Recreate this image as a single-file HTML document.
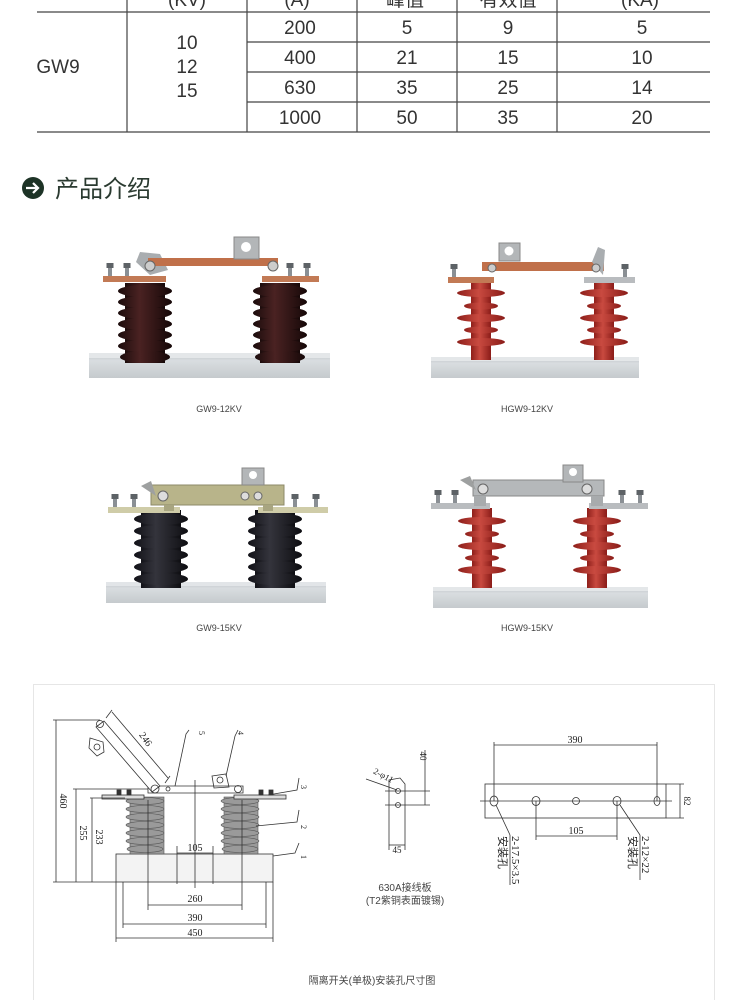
<!DOCTYPE html>
<html><head><meta charset="utf-8"><style>
html,body{margin:0;padding:0;background:#fff;}
body{width:750px;height:1000px;position:relative;overflow:hidden;font-family:"Liberation Sans","Noto Sans CJK SC",sans-serif;}
svg{position:absolute;left:0;top:0}
</style></head><body>
<svg width="750" height="1000" viewBox="0 0 750 1000" xmlns="http://www.w3.org/2000/svg">
<defs>
<linearGradient id="base" x1="0" y1="0" x2="0" y2="1"><stop offset="0" stop-color="#b9bec2"/><stop offset="0.3" stop-color="#d9dde0"/><stop offset="1" stop-color="#c5cacd"/></linearGradient>
<linearGradient id="por" x1="0" y1="0" x2="1" y2="0"><stop offset="0" stop-color="#1c0c0c"/><stop offset="0.4" stop-color="#4a2222"/><stop offset="1" stop-color="#160808"/></linearGradient>
<linearGradient id="blk" x1="0" y1="0" x2="1" y2="0"><stop offset="0" stop-color="#121218"/><stop offset="0.4" stop-color="#34343c"/><stop offset="1" stop-color="#0e0e12"/></linearGradient>
<linearGradient id="red" x1="0" y1="0" x2="1" y2="0"><stop offset="0" stop-color="#8e1f1a"/><stop offset="0.45" stop-color="#c94a40"/><stop offset="1" stop-color="#8a1c18"/></linearGradient>
<g id="porc"><rect x="-20" y="0" width="40" height="80" fill="url(#por)"/>
<ellipse cx="0" cy="8" rx="27" ry="6" fill="url(#por)"/><ellipse cx="0" cy="19" rx="27" ry="6" fill="url(#por)"/><ellipse cx="0" cy="30" rx="27" ry="6" fill="url(#por)"/><ellipse cx="0" cy="41" rx="27" ry="6" fill="url(#por)"/><ellipse cx="0" cy="52" rx="27" ry="6" fill="url(#por)"/><ellipse cx="0" cy="63" rx="27" ry="6" fill="url(#por)"/><ellipse cx="0" cy="74" rx="25" ry="6" fill="url(#por)"/></g>
<g id="blkp"><rect x="-20" y="0" width="40" height="78" fill="url(#blk)"/>
<ellipse cx="0" cy="9" rx="27" ry="6" fill="url(#blk)"/><ellipse cx="0" cy="21" rx="27" ry="6" fill="url(#blk)"/><ellipse cx="0" cy="33" rx="27" ry="6" fill="url(#blk)"/><ellipse cx="0" cy="45" rx="27" ry="6" fill="url(#blk)"/><ellipse cx="0" cy="57" rx="27" ry="6" fill="url(#blk)"/><ellipse cx="0" cy="69" rx="27" ry="6" fill="url(#blk)"/></g>
<g id="comp"><rect x="-10" y="0" width="20" height="80" fill="url(#red)"/>
<ellipse cx="0" cy="13" rx="24" ry="4" fill="url(#red)"/><ellipse cx="0" cy="26" rx="17" ry="3.5" fill="url(#red)"/><ellipse cx="0" cy="38" rx="24" ry="4" fill="url(#red)"/><ellipse cx="0" cy="50" rx="17" ry="3.5" fill="url(#red)"/><ellipse cx="0" cy="62" rx="24" ry="4" fill="url(#red)"/></g>
<g id="bolt"><rect x="-2" y="-10" width="4" height="10" fill="#8a8f94"/><rect x="-3.5" y="-13" width="7" height="5" fill="#5d6266"/></g>
</defs>

<!-- table -->
<g fill="#333" font-size="19" text-anchor="middle" font-family="Liberation Sans,'Noto Sans CJK SC',sans-serif">
<text x="187" y="6">(KV)</text><text x="297" y="6">(A)</text><text x="405" y="6">峰值</text><text x="508" y="6">有效值</text><text x="640" y="6">(KA)</text>
</g>
<g stroke="#444" stroke-width="1.2">
<line x1="37" y1="12" x2="710" y2="12"/><line x1="37" y1="132" x2="710" y2="132"/>
<line x1="247" y1="42" x2="710" y2="42"/><line x1="247" y1="72" x2="710" y2="72"/><line x1="247" y1="102" x2="710" y2="102"/>
<line x1="127" y1="0" x2="127" y2="132"/><line x1="247" y1="0" x2="247" y2="132"/><line x1="357" y1="0" x2="357" y2="132"/><line x1="457" y1="0" x2="457" y2="132"/><line x1="557" y1="0" x2="557" y2="132"/>
</g>
<g fill="#333" font-size="19" text-anchor="middle">
<text x="58" y="73">GW9</text>
<text x="187" y="49">10</text><text x="187" y="73">12</text><text x="187" y="97">15</text>
<text x="300" y="34">200</text><text x="407" y="34">5</text><text x="508" y="34">9</text><text x="642" y="34">5</text>
<text x="300" y="64">400</text><text x="407" y="64">21</text><text x="508" y="64">15</text><text x="642" y="64">10</text>
<text x="300" y="94">630</text><text x="407" y="94">35</text><text x="508" y="94">25</text><text x="642" y="94">14</text>
<text x="300" y="124">1000</text><text x="407" y="124">50</text><text x="508" y="124">35</text><text x="642" y="124">20</text>
</g>

<!-- heading -->
<circle cx="33" cy="188" r="11" fill="#1d3326"/>
<path d="M26 188h12M33 183l5 5-5 5" stroke="#fff" stroke-width="2.2" fill="none"/>
<text x="55" y="197" font-size="24" fill="#2a3a30" font-family="Liberation Sans,'Noto Sans CJK SC',sans-serif">产品介绍</text>

<!-- GW9-12KV -->
<rect x="89" y="353" width="241" height="25" fill="url(#base)"/>
<rect x="89" y="353" width="241" height="5" fill="#e4e7e9"/>
<use href="#porc" x="145" y="283"/><use href="#porc" x="280" y="283"/>
<rect x="103" y="276" width="63" height="6" fill="#c27a55"/><rect x="262" y="276" width="57" height="6" fill="#c27a55"/>
<use href="#bolt" x="110" y="276"/><use href="#bolt" x="127" y="276"/><use href="#bolt" x="290" y="276"/><use href="#bolt" x="307" y="276"/>
<path d="M136 262 L140 252 L160 254 L168 270 L150 275 Z" fill="#a9adb0"/>
<rect x="148" y="258" width="130" height="8" fill="#c0704a"/>
<rect x="234" y="237" width="25" height="22" fill="#b3b6b8" stroke="#888"/><circle cx="246" cy="247" r="5" fill="#fff"/>
<circle cx="150" cy="266" r="5" fill="#ccc" stroke="#666"/><circle cx="273" cy="266" r="5" fill="#ccc" stroke="#666"/>
<text x="219" y="412" font-size="9" fill="#444" text-anchor="middle">GW9-12KV</text>

<!-- HGW9-12KV -->
<rect x="431" y="357" width="208" height="21" fill="url(#base)"/>
<rect x="431" y="357" width="208" height="4" fill="#e4e7e9"/>
<use href="#comp" x="481" y="280"/><use href="#comp" x="604" y="280"/>
<rect x="448" y="277" width="46" height="6" fill="#c27a55"/><rect x="584" y="277" width="51" height="6" fill="#b9bcbf"/>
<use href="#bolt" x="454" y="277"/><use href="#bolt" x="625" y="277"/>
<rect x="482" y="262" width="122" height="9" fill="#c0704a"/>
<path d="M592 262 L598 247 L605 250 L603 275 Z" fill="#a9adb0"/>
<rect x="499" y="243" width="21" height="18" fill="#b3b6b8" stroke="#888"/><circle cx="509" cy="251" r="4.5" fill="#fff"/>
<circle cx="492" cy="268" r="4" fill="#ccc" stroke="#666"/><circle cx="596" cy="268" r="4" fill="#ccc" stroke="#666"/>
<text x="527" y="412" font-size="9" fill="#444" text-anchor="middle">HGW9-12KV</text>

<!-- GW9-15KV -->
<rect x="106" y="582" width="220" height="21" fill="url(#base)"/>
<rect x="106" y="582" width="220" height="4" fill="#e2e5e8"/>
<use href="#blkp" x="161" y="510"/><use href="#blkp" x="275" y="510"/>
<rect x="108" y="507" width="72" height="6" fill="#cfcca8"/><rect x="258" y="507" width="70" height="6" fill="#cfcca8"/>
<use href="#bolt" x="115" y="507"/><use href="#bolt" x="134" y="507"/><use href="#bolt" x="295" y="507"/><use href="#bolt" x="316" y="507"/>
<rect x="151" y="485" width="133" height="20" fill="#b8b48a" stroke="#8d8a68"/>
<path d="M141 486 L151 481 L156 496 Z" fill="#9ea0a0"/>
<rect x="242" y="468" width="22" height="17" fill="#b3b6b8" stroke="#888"/><circle cx="253" cy="475" r="4" fill="#fff"/>
<circle cx="163" cy="496" r="5" fill="#ddd" stroke="#666"/><circle cx="245" cy="496" r="4" fill="#ddd" stroke="#666"/><circle cx="258" cy="496" r="4" fill="#ddd" stroke="#666"/>
<rect x="164" y="505" width="10" height="6" fill="#a8a580"/><rect x="263" y="505" width="10" height="6" fill="#a8a580"/>
<text x="219" y="631" font-size="9" fill="#444" text-anchor="middle">GW9-15KV</text>

<!-- HGW9-15KV -->
<rect x="433" y="587" width="215" height="21" fill="url(#base)"/>
<rect x="433" y="587" width="215" height="4" fill="#e4e7e9"/>
<use href="#comp" x="482" y="508"/><use href="#comp" x="597" y="508"/>
<rect x="431" y="503" width="59" height="6" fill="#b9bcbf"/><rect x="589" y="503" width="59" height="6" fill="#b9bcbf"/>
<use href="#bolt" x="438" y="503"/><use href="#bolt" x="455" y="503"/><use href="#bolt" x="622" y="503"/><use href="#bolt" x="640" y="503"/>
<rect x="473" y="480" width="131" height="16" fill="#b5b8ba" stroke="#888"/>
<rect x="474" y="496" width="12" height="10" fill="#a8abad"/><rect x="591" y="496" width="12" height="10" fill="#a8abad"/>
<path d="M460 480 L470 476 L476 490 Z" fill="#9ea0a0"/>
<rect x="563" y="465" width="20" height="17" fill="#b3b6b8" stroke="#888"/><circle cx="573" cy="472" r="4" fill="#fff"/>
<circle cx="483" cy="489" r="5" fill="#ddd" stroke="#666"/><circle cx="587" cy="489" r="5" fill="#ddd" stroke="#666"/>
<text x="527" y="631" font-size="9" fill="#444" text-anchor="middle">HGW9-15KV</text>

<!-- drawing frame -->
<rect x="33.5" y="684.5" width="681" height="330" fill="none" stroke="#e6e6e6"/>

<!-- left drawing -->
<g stroke="#333" stroke-width="0.8" fill="none">
<rect x="116" y="854" width="157" height="28" fill="#f3f3f3"/>
<g fill="#9a9a9a" stroke="#555" stroke-width="0.6">
<rect x="130" y="797" width="34" height="57"/>
<ellipse cx="145" cy="801" rx="19" ry="3.5"/><ellipse cx="145" cy="809" rx="19" ry="3.5"/><ellipse cx="145" cy="817" rx="19" ry="3.5"/><ellipse cx="145" cy="825" rx="19" ry="3.5"/><ellipse cx="145" cy="833" rx="19" ry="3.5"/><ellipse cx="145" cy="841" rx="19" ry="3.5"/><ellipse cx="145" cy="849" rx="18" ry="3.5"/>
<rect x="224" y="797" width="34" height="57"/>
<ellipse cx="240" cy="801" rx="19" ry="3.5"/><ellipse cx="240" cy="809" rx="19" ry="3.5"/><ellipse cx="240" cy="817" rx="19" ry="3.5"/><ellipse cx="240" cy="825" rx="19" ry="3.5"/><ellipse cx="240" cy="833" rx="19" ry="3.5"/><ellipse cx="240" cy="841" rx="19" ry="3.5"/><ellipse cx="240" cy="849" rx="18" ry="3.5"/>
</g>
<rect x="102" y="795" width="42" height="4" fill="#ddd"/><rect x="234" y="795" width="52" height="4" fill="#ddd"/>
<rect x="117" y="790" width="4" height="5" fill="#333"/><rect x="127" y="790" width="4" height="5" fill="#333"/><rect x="259" y="790" width="4" height="5" fill="#333"/><rect x="269" y="790" width="4" height="5" fill="#333"/>
<path d="M148 786 L243 786 L243 793 L148 793 Z" fill="#fff"/>
<path d="M96 727 L104 721 L160 786 L152 792 Z" fill="#fff"/>
<circle cx="100" cy="724" r="3.5"/><circle cx="155" cy="789" r="4"/><circle cx="238" cy="789" r="3.5"/><circle cx="168" cy="789" r="2"/>
<path d="M90 738 L103 742 L104 752 L97 756 L89 748 Z"/><circle cx="97" cy="747" r="3"/>
<path d="M212 776 L226 774 L229 787 L214 788 Z"/><circle cx="220" cy="780" r="3"/>
<line x1="112" y1="712" x2="168" y2="778"/><line x1="106" y1="718" x2="112" y2="710"/><line x1="165" y1="783" x2="170" y2="776"/>
<line x1="53" y1="720" x2="100" y2="720"/><line x1="56" y1="720" x2="56" y2="882"/>
<line x1="73" y1="789" x2="148" y2="789"/><line x1="76" y1="789" x2="76" y2="882"/>
<line x1="90" y1="798" x2="125" y2="798"/><line x1="92" y1="798" x2="92" y2="882"/>
<line x1="53" y1="882" x2="116" y2="882"/>
<line x1="195" y1="780" x2="195" y2="888"/>
<line x1="177" y1="846" x2="177" y2="884"/><line x1="213" y1="846" x2="213" y2="884"/><line x1="177" y1="853" x2="213" y2="853"/>
<line x1="148" y1="800" x2="148" y2="910"/><line x1="242" y1="800" x2="242" y2="910"/><line x1="148" y1="905" x2="242" y2="905"/>
<line x1="123" y1="882" x2="123" y2="928"/><line x1="266" y1="882" x2="266" y2="928"/><line x1="123" y1="924" x2="266" y2="924"/>
<line x1="116" y1="882" x2="116" y2="942"/><line x1="273" y1="882" x2="273" y2="942"/><line x1="116" y1="938" x2="273" y2="938"/>
<path d="M175 786 L186 734 L189 730"/><path d="M226 776 L235 736 L238 730"/>
<path d="M268 795 L297 790 L299 778"/><path d="M256 826 L297 822 L299 810"/><path d="M273 856 L295 853 L299 843"/>
</g>
<g font-family="Liberation Serif,serif" font-size="10" fill="#222" text-anchor="middle">
<text transform="translate(143,741) rotate(55)">246</text>
<text transform="translate(60,801) rotate(90)">460</text>
<text transform="translate(80,833) rotate(90)">255</text>
<text transform="translate(96,837) rotate(90)">233</text>
<text x="195" y="851">105</text><text x="195" y="902">260</text><text x="195" y="921">390</text><text x="195" y="936">450</text>
<text transform="translate(199,733) rotate(90)" font-size="8">5</text>
<text transform="translate(238,733) rotate(90)" font-size="8">4</text>
<text transform="translate(301,787) rotate(90)" font-size="8">3</text>
<text transform="translate(301,827) rotate(90)" font-size="8">2</text>
<text transform="translate(301,857) rotate(90)" font-size="8">1</text>
</g>

<!-- middle plate -->
<g stroke="#333" stroke-width="0.8" fill="none">
<path d="M389 850 L389 780 L400 778 L405 784 L405 850"/>
<circle cx="398" cy="791" r="2.5"/><circle cx="398" cy="805" r="2.5"/>
<line x1="385" y1="791" x2="430" y2="791"/><line x1="385" y1="805" x2="430" y2="805"/><line x1="425" y1="750" x2="425" y2="805"/>
<line x1="389" y1="845" x2="405" y2="845"/>
<line x1="366" y1="779" x2="397" y2="790"/>
</g>
<g font-family="Liberation Serif,serif" font-size="9" fill="#222" text-anchor="middle">
<text transform="translate(420,756) rotate(90)">40</text>
<text x="397" y="853">45</text>
<text transform="translate(382,778) rotate(28)">2-φ11</text>
</g>
<text x="405" y="891" font-size="10" fill="#444" text-anchor="middle" font-family="Liberation Sans,'Noto Sans CJK SC',sans-serif">630A接线板</text>
<text x="405" y="904" font-size="10" fill="#444" text-anchor="middle" font-family="Liberation Sans,'Noto Sans CJK SC',sans-serif">(T2紫铜表面镀锡)</text>

<!-- right bar -->
<g stroke="#333" stroke-width="0.8" fill="none">
<rect x="485" y="784" width="181" height="34"/>
<line x1="480" y1="801" x2="672" y2="801"/>
<ellipse cx="494" cy="801" rx="4" ry="5"/><ellipse cx="536" cy="801" rx="4" ry="4.5"/><ellipse cx="576" cy="801" rx="3.5" ry="3.5"/><ellipse cx="617" cy="801" rx="4" ry="4.5"/><ellipse cx="657" cy="801" rx="3" ry="4.5"/>
<line x1="494" y1="742" x2="494" y2="801"/><line x1="657" y1="742" x2="657" y2="801"/><line x1="494" y1="745" x2="657" y2="745"/>
<line x1="666" y1="784" x2="684" y2="784"/><line x1="666" y1="818" x2="684" y2="818"/><line x1="680" y1="784" x2="680" y2="818"/>
<line x1="536" y1="801" x2="536" y2="840"/><line x1="617" y1="801" x2="617" y2="840"/><line x1="536" y1="836" x2="617" y2="836"/>
<line x1="496" y1="805" x2="510" y2="835"/><line x1="510" y1="835" x2="510" y2="885"/>
<line x1="620" y1="805" x2="640" y2="835"/><line x1="640" y1="835" x2="640" y2="880"/>
</g>
<g font-family="Liberation Serif,serif" font-size="10" fill="#222" text-anchor="middle">
<text x="575" y="743">390</text><text x="576" y="834">105</text>
<text transform="translate(684,801) rotate(90)" font-size="9">82</text>
<text transform="translate(512,836) rotate(90)" text-anchor="start" font-size="11">2-17.5×3.5</text>
<text transform="translate(642,836) rotate(90)" text-anchor="start" font-size="11">2-12×22</text>
</g>
<g font-family="'Noto Sans CJK SC',sans-serif" font-size="11" fill="#222" text-anchor="middle">
<text transform="translate(499,836) rotate(90)" text-anchor="start">安装孔</text>
<text transform="translate(629,836) rotate(90)" text-anchor="start">安装孔</text>
</g>

<text x="372" y="984" font-size="10" fill="#444" text-anchor="middle" font-family="Liberation Sans,'Noto Sans CJK SC',sans-serif">隔离开关(单极)安装孔尺寸图</text>
</svg>
</body></html>
